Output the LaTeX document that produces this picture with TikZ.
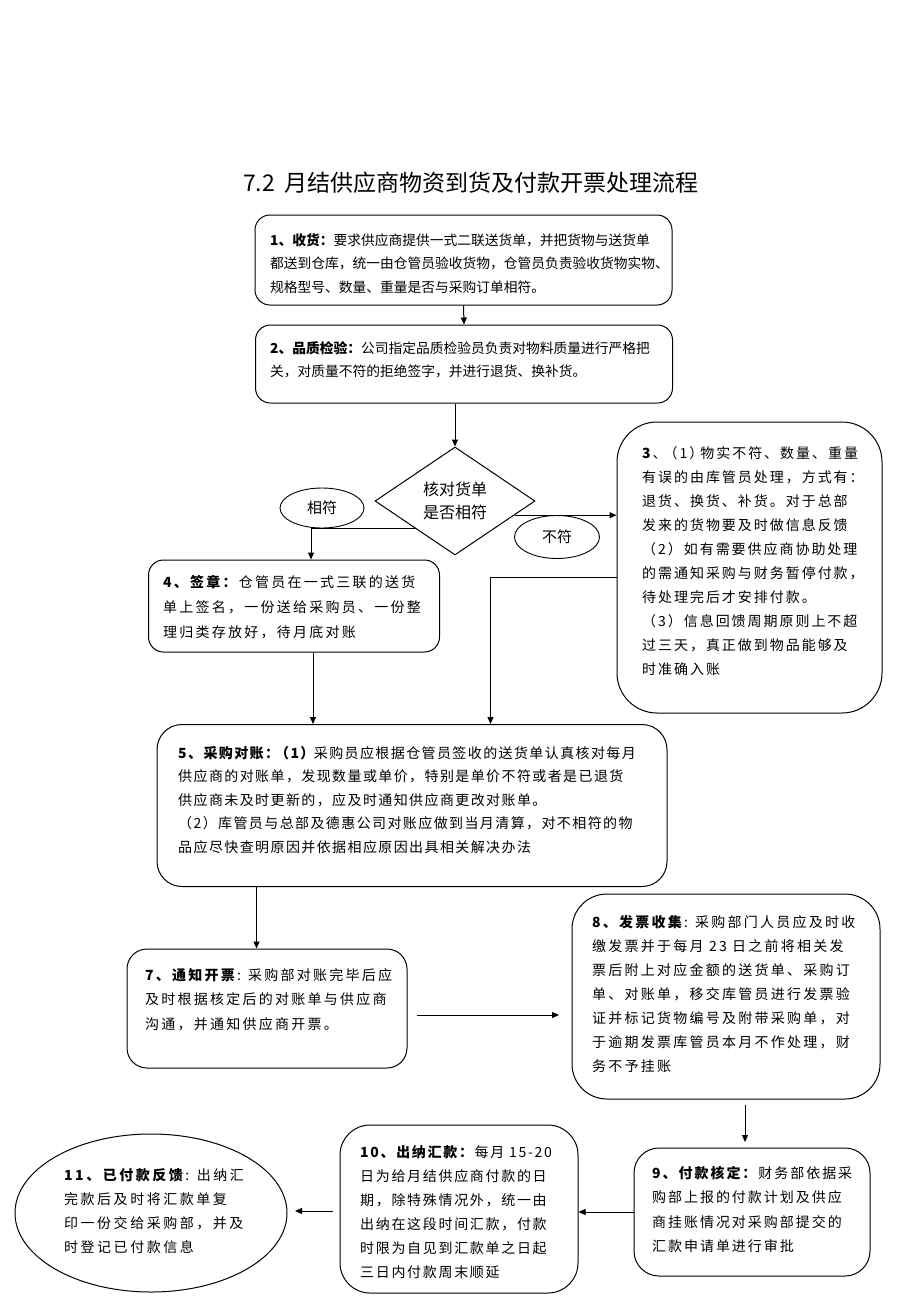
\documentclass[tikz,border=0pt]{standalone}
\usepackage{fontspec}
\setmainfont{Noto Sans CJK SC}
\newfontfamily\lsA{Noto Sans CJK SC}[LetterSpace=14]
\newfontfamily\lsB{Noto Sans CJK SC}[LetterSpace=16]
\newfontfamily\lsD{Noto Sans CJK SC}[LetterSpace=18]
\newfontfamily\lsE{Noto Sans CJK SC}[LetterSpace=10]
\newfontfamily\lsF{Noto Sans CJK SC}[LetterSpace=12]
\usetikzlibrary{shapes.geometric,arrows.meta,calc}
\tikzset{
  box/.style={draw, line width=1pt, rectangle, inner sep=0pt},
  txta/.style={inner sep=0pt, align=left, anchor=north west, font=\fontsize{13.75pt}{23.75pt}\selectfont},
  txtb/.style={inner sep=0pt, align=left, anchor=north west, font=\lsB\fontsize{14pt}{24pt}\selectfont},
  oval/.style={draw, ellipse, line width=0.9pt, inner sep=0pt, font=\fontsize{15pt}{18pt}\selectfont},
  arr/.style={line width=1pt, -{Triangle[length=7pt,width=6pt]}}
}
\begin{document}
\begin{tikzpicture}[x=1pt,y=-1pt]
\useasboundingbox (0,0) rectangle (920,1302);
\fill[white] (0,0) rectangle (920,1302);

\node[anchor=west, inner sep=0pt, font=\fontsize{23pt}{26pt}\selectfont] (title) at (243,183) {7.2\hspace{9pt}月结供应商物资到货及付款开票处理流程};

% boxes
\node[box, rounded corners=15pt, minimum width=417pt, minimum height=90pt] (b1) at (463.5,260) {};
\node[box, rounded corners=15pt, minimum width=417pt, minimum height=78pt] (b2) at (464,364) {};
\node[box, diamond, line width=1pt, minimum width=160pt, minimum height=108pt, align=center, font=\fontsize{16pt}{23pt}\selectfont] (d) at (455,501) {核对货单\\是否相符};
\node[oval, minimum width=84pt, minimum height=40pt] (yes) at (322,508) {相符};
\node[oval, minimum width=85pt, minimum height=43pt] (no) at (557,537) {不符};
\node[box, rounded corners=40pt, minimum width=265pt, minimum height=291pt] (b3) at (749.5,567.5) {};
\node[box, rounded corners=15pt, minimum width=291pt, minimum height=92pt] (b4) at (294,606) {};
\node[box, rounded corners=25pt, minimum width=510pt, minimum height=162pt] (b5) at (412,805.5) {};
\node[box, rounded corners=20pt, minimum width=280pt, minimum height=119pt] (b7) at (267,1008.5) {};
\node[box, rounded corners=35pt, minimum width=308pt, minimum height=205pt] (b8) at (726,996.5) {};
\node[box, rounded corners=25pt, minimum width=236pt, minimum height=128pt] (b9) at (752,1212) {};
\node[box, rounded corners=30pt, minimum width=238pt, minimum height=168pt] (b10) at (459,1209) {};
\node[draw, ellipse, line width=1pt, minimum width=272pt, minimum height=158pt, inner sep=0pt] (e11) at (151,1213) {};

% texts
\node[txta] (t1) at (270,233) {\textbf{1、收货：}要求供应商提供一式二联送货单，并把货物与送货单\\
都送到仓库，统一由仓管员验收货物，仓管员负责验收货物实物、\\
规格型号、数量、重量是否与采购订单相符。};
\node[txta] (t2) at (270,341) {\textbf{2、品质检验：}公司指定品质检验员负责对物料质量进行严格把\\
关，对质量不符的拒绝签字，并进行退货、换补货。};
\node[txtb, font=\lsA\fontsize{14pt}{24pt}\selectfont] (t3) at (642,446) {\textbf{3}、\kern-3pt（1）\kern-3pt物实不符、数量、重量\\
有误的由库管员处理，方式有：\\
退货、换货、补货。对于总部\\
发来的货物要及时做信息反馈\\
（2）如有需要供应商协助处理\\
的需通知采购与财务暂停付款，\\
待处理完后才安排付款。\\
（3）信息回馈周期原则上不超\\
过三天，真正做到物品能够及\\
时准确入账};
\node[txtb, font=\lsB\fontsize{14pt}{25pt}\selectfont] (t4) at (163,575) {\textbf{4、签章：}仓管员在一式三联的送货\\
单上签名，一份送给采购员、一份整\\
理归类存放好，待月底对账};
\node[txtb, font=\lsE\fontsize{14pt}{23.5pt}\selectfont] (t5) at (178,746) {\textbf{5、采购对账：\kern-4pt（1）}\kern-2pt采购员应根据仓管员签收的送货单认真核对每月\\
供应商的对账单，发现数量或单价，特别是单价不符或者是已退货\\
供应商未及时更新的，应及时通知供应商更改对账单。\\
（2）库管员与总部及德惠公司对账应做到当月清算，对不相符的物\\
品应尽快查明原因并依据相应原因出具相关解决办法};
\node[txtb, font=\lsB\fontsize{14pt}{24.5pt}\selectfont] (t7) at (145,968) {\textbf{7、通知开票}: 采购部对账完毕后应\\
及时根据核定后的对账单与供应商\\
沟通，并通知供应商开票。};
\node[txtb] (t8) at (592,915) {\textbf{8、发票收集}: 采购部门人员应及时收\\
缴发票并于每月 23 日之前将相关发\\
票后附上对应金额的送货单、采购订\\
单、对账单，移交库管员进行发票验\\
证并标记货物编号及附带采购单，对\\
于逾期发票库管员本月不作处理，财\\
务不予挂账};
\node[txtb, font=\lsA\fontsize{14pt}{24.5pt}\selectfont] (t9) at (652,1166) {\textbf{9、付款核定：}财务部依据采\\
购部上报的付款计划及供应\\
商挂账情况对采购部提交的\\
汇款申请单进行审批};
\node[txtb, font=\lsF\fontsize{14pt}{24pt}\selectfont] (t10) at (360,1145) {\textbf{10、出纳汇款：}每月 15-20\\
日为给月结供应商付款的日\\
期，除特殊情况外，统一由\\
出纳在这段时间汇款，付款\\
时限为自见到汇款单之日起\\
三日内付款周末顺延};
\node[txtb, font=\lsD\fontsize{14pt}{24pt}\selectfont] (t11) at (64,1168) {\textbf{11、已付款反馈}: 出纳汇\\
完款后及时将汇款单复\\
印一份交给采购部，并及\\
时登记已付款信息};

% connectors
\draw[arr] (b1.south) -- (b2.north);
\draw[arr] (b2.south -| d.north) -- (d.north);
\coordinate (dr) at ($(d.east)!0.26!(d.south)$);
\coordinate (dl) at ($(d.west)!0.5!(d.south)$);
\draw[arr] (dr) -- (dr -| b3.west);
\draw[arr] (dl) -| ([xshift=163pt]b4.north west);
\draw[arr] ([yshift=-156pt]b3.north west) -| ([xshift=334pt]b5.north west);
\draw[arr] ([xshift=165pt]b4.south west) -- ([xshift=165pt]b4.south west |- b5.north);
\draw[arr] ([xshift=100pt]b5.south west) -- ([xshift=100pt]b5.south west |- b7.north);
\coordinate (a7s) at (417,1015);
\coordinate (a7e) at (559,1015);
\draw[arr] (a7s) -- (a7e);
\coordinate (a8s) at (745,1105);
\coordinate (a8e) at (745,1142);
\draw[arr] (a8s) -- (a8e);
\draw[arr] (b9.west) -- (b9.west -| b10.east);
\coordinate (a10s) at (333,1211);
\coordinate (a10e) at (295,1211);
\draw[arr] (a10s) -- (a10e);
\end{tikzpicture}
\end{document}
